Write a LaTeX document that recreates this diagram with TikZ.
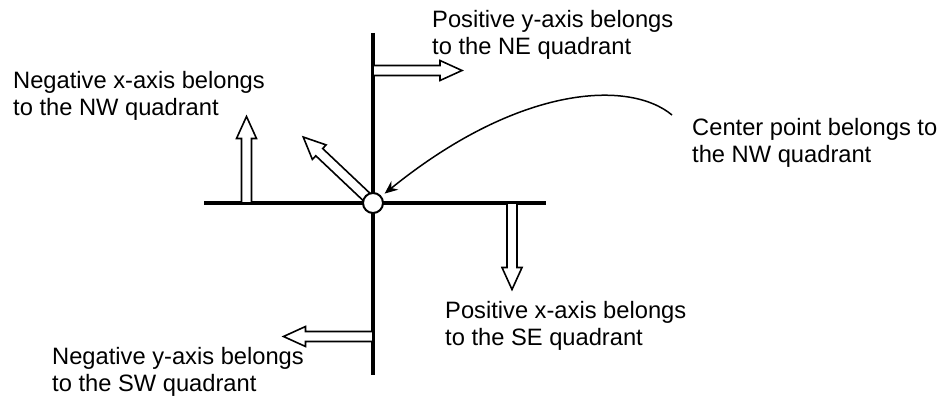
\documentclass[tikz,border=0pt]{standalone}
\usepackage{fontspec}
\setmainfont{Liberation Sans}
\usepackage{tikz}
\usetikzlibrary{arrows.meta,calc}

% hollow block arrow: start point, angle, length
\newcommand{\blockarrow}[3]{%
  \begin{scope}[shift={#1},rotate=#2]
    \draw[hollow] (0,-5) -- ({#3-22},-5) -- ({#3-22},-10) -- (#3,0)
      -- ({#3-22},10) -- ({#3-22},5) -- (0,5) -- cycle;
  \end{scope}}

\begin{document}
\begin{tikzpicture}[
x=1pt,y=-1pt,
every node/.style={font=\fontsize{23.7}{27}\selectfont},
label/.style={anchor=base west,align=left,inner sep=0pt},
axis/.style={line width=4pt},
hollow/.style={draw=black,fill=white,line width=1.6pt,line join=miter},
pointer/.style={-{Stealth[length=13pt,width=11pt]},line width=1.5pt,shorten >=4pt},
dot/.style={circle,draw,fill=white,line width=2pt,minimum size=20pt,inner sep=0pt}
]
\useasboundingbox (0,0) rectangle (941,396);

% axes
\coordinate (ytop) at (373,33);
\coordinate (ybot) at (373,375);
\coordinate (xleft) at (204,203);
\coordinate (xright) at (546,203);
\draw[axis] (ytop) -- (ybot);
\draw[axis] (xleft) -- (xright);

% block arrows
\blockarrow{(373,70.5)}{0}{89}
\blockarrow{(246.5,203)}{90}{86.5}
\blockarrow{(373,203)}{136.6}{96}
\blockarrow{(512,203)}{-90}{86.5}
\blockarrow{(373,336.5)}{180}{89.5}

\node[dot] (ctr) at (373,203) {};

% labels (base = second line)
\node[label] (ney) at (432,55) {Positive y-axis belongs\\to the NE quadrant};
\node[label] (nwx) at (13,115) {Negative x-axis belongs\\to the NW quadrant};
\node[label] (ctrtxt) at (692,162) {Center point belongs to\\the NW quadrant};
\node[label] (sex) at (445,345) {Positive x-axis belongs\\to the SE quadrant};
\node[label] (swy) at (52,391) {Negative y-axis belongs\\to the SW quadrant};

\coordinate (from) at (672,115);
\draw[pointer] (from) .. controls (630,80) and (520,84) .. (ctr);
\end{tikzpicture}
\end{document}
